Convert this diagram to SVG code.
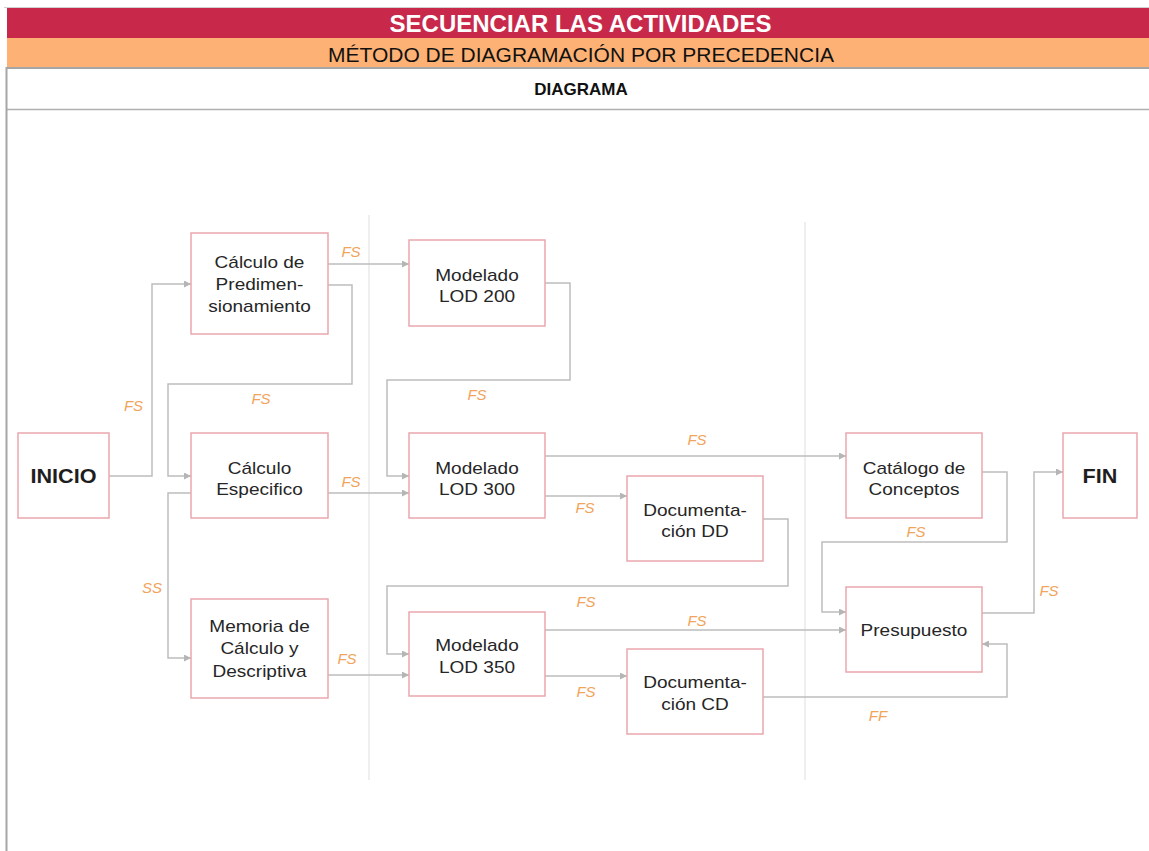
<svg xmlns="http://www.w3.org/2000/svg" width="1149" height="851" viewBox="0 0 1149 851">
  <style>
    .band-title { font-family: "Liberation Sans", Arial, sans-serif; font-weight: bold; font-size: 24px; fill: #ffffff; text-anchor: middle; }
    .band-sub { font-family: "Liberation Sans", Arial, sans-serif; font-size: 21px; fill: #111111; text-anchor: middle; }
    .row-head { font-family: "Liberation Sans", Arial, sans-serif; font-weight: bold; font-size: 17px; fill: #111111; text-anchor: middle; }
    .box { fill: #ffffff; stroke: #eaa6ae; stroke-width: 1.5; }
    .txt { font-family: "Liberation Sans", Arial, sans-serif; font-size: 17px; fill: #262626; text-anchor: middle; }
    .big { font-family: "Liberation Sans", Arial, sans-serif; font-size: 20px; font-weight: bold; fill: #1e1e1e; text-anchor: middle; }
    .conn { fill: none; stroke: #bdbdbd; stroke-width: 1.5; marker-end: url(#arrow); }
    .lag { font-family: "Liberation Sans", Arial, sans-serif; font-size: 15px; font-style: italic; fill: #f1a45c; text-anchor: middle; }
    .divider { stroke: #e6e2e2; stroke-width: 1.2; }
  </style>
  <defs>
    <marker id="arrow" markerUnits="userSpaceOnUse" markerWidth="8" markerHeight="7" refX="7" refY="3.5" orient="auto">
      <path d="M0,0 L7,3.5 L0,7 z" fill="#b5b5b5"/>
    </marker>
  </defs>

  <rect x="0" y="0" width="1149" height="851" fill="#ffffff"/>

  <!-- header table -->
  <g id="header">
    <line x1="4" y1="7.5" x2="1149" y2="7.5" stroke="#d0d0d0" stroke-width="1"/>
    <rect x="7" y="8" width="1142" height="30" fill="#c8294b"/>
    <rect x="7" y="38" width="1142" height="29" fill="#fdb174"/>
    <line x1="6" y1="68" x2="1149" y2="68" stroke="#a6a6a6" stroke-width="2"/>
    <line x1="6" y1="109.5" x2="1149" y2="109.5" stroke="#b0b0b0" stroke-width="1.5"/>
    <line x1="6.5" y1="67" x2="6.5" y2="851" stroke="#a6a6a6" stroke-width="2"/>
    <text class="band-title" x="580.5" y="32">SECUENCIAR LAS ACTIVIDADES</text>
    <text class="band-sub" x="581" y="61.5">MÉTODO DE DIAGRAMACIÓN POR PRECEDENCIA</text>
    <text class="row-head" x="581" y="95">DIAGRAMA</text>
  </g>

  <!-- phase dividers -->
  <g id="dividers">
    <line class="divider" x1="369" y1="215" x2="369" y2="780"/>
    <line class="divider" x1="805" y1="222" x2="805" y2="780"/>
  </g>

  <!-- connectors -->
  <g id="connectors">
    <path class="conn" d="M109,476 H152 V284 H191"/>
    <path class="conn" d="M328,285 H352 V384 H168 V476 H191"/>
    <path class="conn" d="M328,264 H409"/>
    <path class="conn" d="M545,283 H570 V380 H387 V476 H409"/>
    <path class="conn" d="M328,493 H409"/>
    <path class="conn" d="M545,456 H846"/>
    <path class="conn" d="M545,496 H627"/>
    <path class="conn" d="M763,519 H788 V586 H387 V654 H409"/>
    <path class="conn" d="M328,675 H409"/>
    <path class="conn" d="M191,493 H168 V658 H191"/>
    <path class="conn" d="M545,630 H846"/>
    <path class="conn" d="M545,676 H627"/>
    <path class="conn" d="M763,697 H1007 V644 H982"/>
    <path class="conn" d="M982,472 H1007 V542 H822 V612 H846"/>
    <path class="conn" d="M982,613 H1034 V472 H1063"/>

    <text class="lag" x="133.5" y="411">FS</text>
    <text class="lag" x="261" y="404">FS</text>
    <text class="lag" x="351" y="257">FS</text>
    <text class="lag" x="351" y="487">FS</text>
    <text class="lag" x="477" y="400">FS</text>
    <text class="lag" x="697" y="445">FS</text>
    <text class="lag" x="585" y="513">FS</text>
    <text class="lag" x="586" y="607">FS</text>
    <text class="lag" x="697" y="626">FS</text>
    <text class="lag" x="586" y="697">FS</text>
    <text class="lag" x="878" y="721">FF</text>
    <text class="lag" x="916" y="537">FS</text>
    <text class="lag" x="1049" y="596">FS</text>
    <text class="lag" x="152" y="593">SS</text>
    <text class="lag" x="347" y="664">FS</text>
  </g>

  <!-- activity nodes -->
  <g id="inicio">
    <rect class="box" x="18" y="433" width="91" height="85"/>
    <g transform="translate(63.5 0) scale(1.08 1)"><text class="big" x="0" y="483">INICIO</text></g>
  </g>

  <g id="calculo-predimensionamiento">
    <rect class="box" x="191" y="233" width="137" height="101"/>
    <g transform="translate(259.5 0) scale(1.12 1)">
      <text class="txt"><tspan x="0" y="268">Cálculo de</tspan><tspan x="0" y="290">Predimen-</tspan><tspan x="0" y="312">sionamiento</tspan></text>
    </g>
  </g>

  <g id="calculo-especifico">
    <rect class="box" x="191" y="433" width="137" height="85"/>
    <g transform="translate(259.5 0) scale(1.12 1)">
      <text class="txt"><tspan x="0" y="474">Cálculo</tspan><tspan x="0" y="495">Especifico</tspan></text>
    </g>
  </g>

  <g id="memoria-calculo">
    <rect class="box" x="191" y="599" width="137" height="99"/>
    <g transform="translate(259.5 0) scale(1.12 1)">
      <text class="txt"><tspan x="0" y="632">Memoria de</tspan><tspan x="0" y="654">Cálculo y</tspan><tspan x="0" y="677">Descriptiva</tspan></text>
    </g>
  </g>

  <g id="modelado-lod200">
    <rect class="box" x="409" y="240" width="136" height="86"/>
    <g transform="translate(477 0) scale(1.12 1)">
      <text class="txt"><tspan x="0" y="281">Modelado</tspan><tspan x="0" y="302">LOD 200</tspan></text>
    </g>
  </g>

  <g id="modelado-lod300">
    <rect class="box" x="409" y="433" width="136" height="85"/>
    <g transform="translate(477 0) scale(1.12 1)">
      <text class="txt"><tspan x="0" y="474">Modelado</tspan><tspan x="0" y="495">LOD 300</tspan></text>
    </g>
  </g>

  <g id="documentacion-dd">
    <rect class="box" x="627" y="476" width="136" height="85"/>
    <g transform="translate(695 0) scale(1.12 1)">
      <text class="txt"><tspan x="0" y="516">Documenta-</tspan><tspan x="0" y="537">ción DD</tspan></text>
    </g>
  </g>

  <g id="modelado-lod350">
    <rect class="box" x="409" y="612" width="136" height="84"/>
    <g transform="translate(477 0) scale(1.12 1)">
      <text class="txt"><tspan x="0" y="651">Modelado</tspan><tspan x="0" y="673">LOD 350</tspan></text>
    </g>
  </g>

  <g id="documentacion-cd">
    <rect class="box" x="627" y="649" width="136" height="85"/>
    <g transform="translate(695 0) scale(1.12 1)">
      <text class="txt"><tspan x="0" y="688">Documenta-</tspan><tspan x="0" y="710">ción CD</tspan></text>
    </g>
  </g>

  <g id="catalogo-conceptos">
    <rect class="box" x="846" y="433" width="136" height="85"/>
    <g transform="translate(914 0) scale(1.12 1)">
      <text class="txt"><tspan x="0" y="474">Catálogo de</tspan><tspan x="0" y="495">Conceptos</tspan></text>
    </g>
  </g>

  <g id="presupuesto">
    <rect class="box" x="846" y="587" width="136" height="85"/>
    <g transform="translate(914 0) scale(1.12 1)">
      <text class="txt" x="0" y="636">Presupuesto</text>
    </g>
  </g>

  <g id="fin">
    <rect class="box" x="1063" y="433" width="74" height="85"/>
    <g transform="translate(1100 0) scale(1.08 1)"><text class="big" x="0" y="483">FIN</text></g>
  </g>
</svg>
